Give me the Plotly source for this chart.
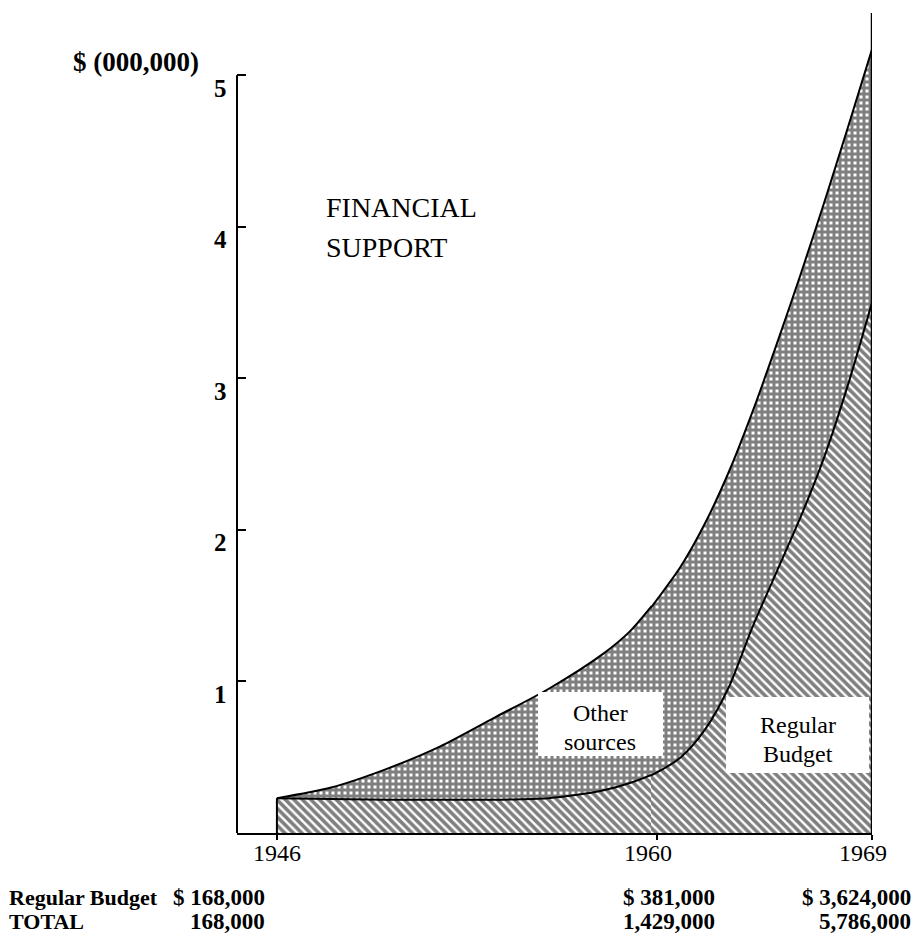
import plotly.graph_objects as go

# ---------------- data (millions of US$) ----------------
years_total = [1946, 1948, 1950, 1952, 1954, 1956, 1958, 1959, 1960,
               1961, 1962, 1963, 1964, 1965, 1966, 1967, 1968, 1969]
total_musd = [0.23, 0.30, 0.42, 0.57, 0.76, 0.95, 1.18, 1.33, 1.54,
              1.76, 2.04, 2.38, 2.78, 3.22, 3.68, 4.16, 4.66, 5.17]

years_regular = [1946, 1950, 1954, 1956, 1957, 1958, 1959, 1960,
                 1961, 1962, 1963, 1964, 1965, 1966, 1967, 1968, 1969]
regular_musd = [0.23, 0.22, 0.22, 0.23, 0.25, 0.28, 0.33, 0.40,
                0.50, 0.68, 0.96, 1.36, 1.72, 2.08, 2.48, 2.96, 3.50]

table_years = [1946, 1960, 1969]
table_regular = [168000, 381000, 3624000]
table_total = [168000, 1429000, 5786000]

x_ticks_left = [1946]
x_ticks_right = [1960, 1969]
y_ticks = [1, 2, 3, 4, 5]

# ---------------- layout geometry (page pixels; page body has an 8px margin) ----------------
OFF = 8
FIG_W, FIG_H = 912, 927
L, R, T, B = 237, 872, 13, 833          # plot area on the page
SPLIT_PX = 657                          # 1960 on the page
d = (SPLIT_PX - L) / (R - L)
LEFT_PPY = (SPLIT_PX - 277) / 14.0      # px per year, 1946-1960 part
RIGHT_PPY = (R - SPLIT_PX) / 9.0        # px per year, 1960-1969 part
X_LEFT = [1944.53, 1960]
X_RIGHT = [1960, 1969]
Y_RANGE = [0, 5.41]
OV = 6                                  # px overlap of the two halves

def px(xp):
    return (xp - L) / (R - L)

def py(yp):
    return (B - yp) / (B - T)

SERIF = "Liberation Serif, Times New Roman, serif"

fig = go.Figure()

def seg(xs, ys, lo, hi):
    """points inside [lo, hi] plus one neighbour on each side (clipped by the subplot)"""
    idx = [i for i, x in enumerate(xs) if lo <= x <= hi]
    i0, i1 = max(idx[0] - 1, 0), min(idx[-1] + 1, len(xs) - 1)
    return xs[i0:i1 + 1], ys[i0:i1 + 1]

reg_pat = dict(shape="\\", size=6, solidity=0.6, fgcolor="black", bgcolor="white")
oth_pat = dict(shape="+", size=6, solidity=0.75, fgcolor="black", bgcolor="white")

for (lo, hi, xa) in [(1946, 1960, "x"), (1960, 1969, "x2")]:
    rx, ry = seg(years_regular, regular_musd, lo, hi)
    tx, ty = seg(years_total, total_musd, lo, hi)
    fig.add_trace(go.Scatter(
        x=rx, y=ry, xaxis=xa, yaxis="y", mode="lines",
        line=dict(color="black", width=2, shape="spline", smoothing=0.8),
        fill="tozeroy", fillcolor="white", fillpattern=reg_pat,
        name="Regular Budget", hoverinfo="skip"))
    fig.add_trace(go.Scatter(
        x=tx, y=ty, xaxis=xa, yaxis="y", mode="lines",
        line=dict(color="black", width=2, shape="spline", smoothing=0.8),
        fill="tonexty", fillcolor="white", fillpattern=oth_pat,
        name="Other sources", hoverinfo="skip"))

shapes = [
    dict(type="line", xref="paper", yref="y", x0=0, x1=0, y0=0, y1=max(y_ticks),
         line=dict(color="black", width=2)),
    dict(type="line", xref="x2", yref="paper", x0=x_ticks_right[-1], x1=x_ticks_right[-1],
         y0=0, y1=1, line=dict(color="black", width=2.5)),
    dict(type="line", xref="x", yref="y", x0=years_regular[0], x1=years_regular[0],
         y0=0, y1=regular_musd[0], line=dict(color="black", width=2)),
    dict(type="rect", xref="paper", yref="paper", x0=px(538), x1=px(663),
         y0=py(756), y1=py(692), fillcolor="white", line=dict(width=0), layer="above"),
    dict(type="rect", xref="paper", yref="paper", x0=px(726), x1=px(869),
         y0=py(773), y1=py(697), fillcolor="white", line=dict(width=0), layer="above"),
]

ann = []
def text(x, y, s, size, bold=False, xanchor="center", xref="paper", yref="paper", yshift=0):
    ann.append(dict(x=x, y=y, xref=xref, yref=yref, text=f"<b>{s}</b>" if bold else s,
                    showarrow=False, xanchor=xanchor, yanchor="middle", yshift=yshift,
                    borderpad=0, font=dict(family=SERIF, size=size, color="black")))

text(px(136), py(62), "$ (000,000)", 27, bold=True)
for v in y_ticks:
    text(px(228), v, str(v), 25, bold=True, xanchor="right", yref="y", yshift=-13)
text(px(325), py(207), "FINANCIAL", 28, xanchor="left")
text(px(325), py(247), "SUPPORT", 28, xanchor="left")
text(px(600), py(713), "Other", 24)
text(px(600), py(742), "sources", 24)
text(px(798), py(725), "Regular", 24)
text(px(798), py(754), "Budget", 24)

row1, row2 = py(897), py(921)
text(px(8), row1, "Regular Budget", 22, bold=True, xanchor="left")
text(px(8), row2, "TOTAL", 22, bold=True, xanchor="left")
col_right = [266, 716, 912]
for xr, rv, tv in zip(col_right, table_regular, table_total):
    text(px(xr), row1, f"$ {rv:,}", 23, bold=True, xanchor="right")
    text(px(xr), row2, f"{tv:,}", 23, bold=True, xanchor="right")

axis_common = dict(showgrid=False, zeroline=False, showline=True, linecolor="black",
                   linewidth=2, ticks="outside", ticklen=5, tickwidth=2, tickcolor="black",
                   ticklabelstandoff=-8,
                   tickfont=dict(family=SERIF, size=24, color="black"), fixedrange=True)

ov_dom = OV / (R - L)
fig.update_layout(
    width=FIG_W, height=FIG_H,
    margin=dict(l=L - OFF, r=FIG_W - (R - OFF), t=T - OFF, b=FIG_H - (B - OFF)),
    paper_bgcolor="white", plot_bgcolor="white",
    showlegend=False,
    xaxis=dict(domain=[0, d + ov_dom], range=[X_LEFT[0], X_LEFT[1] + OV / LEFT_PPY],
               tickvals=x_ticks_left, ticktext=[str(t) for t in x_ticks_left],
               anchor="y", **axis_common),
    xaxis2=dict(domain=[d - ov_dom, 1], range=[X_RIGHT[0] - OV / RIGHT_PPY, X_RIGHT[1]],
                tickvals=x_ticks_right, ticktext=[str(t) for t in x_ticks_right],
                anchor="y", ticklabelshift=-9, **axis_common),
    yaxis=dict(range=Y_RANGE, anchor="x", showgrid=False, zeroline=False, showline=False,
               ticks="inside", ticklen=9, tickwidth=2, tickcolor="black",
               tickvals=y_ticks, showticklabels=False, fixedrange=True),
    shapes=shapes,
    annotations=ann,
)

fig.write_html("out.html")
